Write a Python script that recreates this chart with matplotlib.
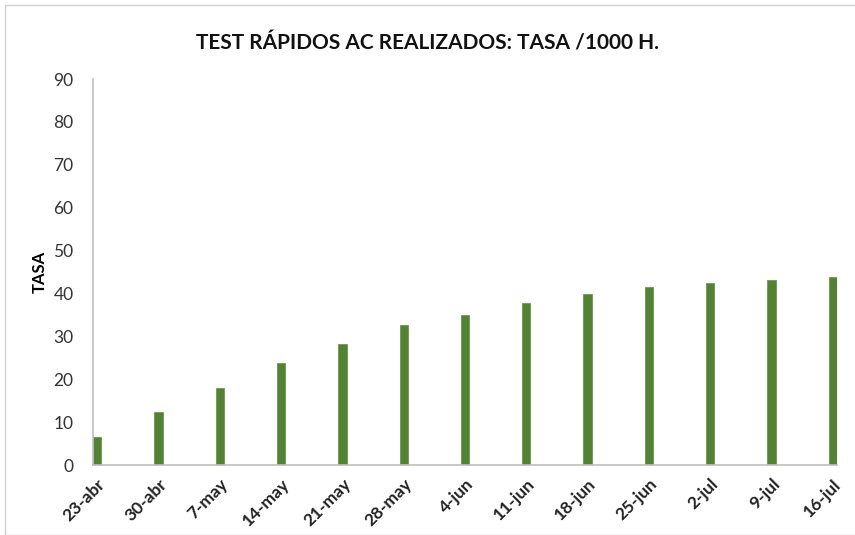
import numpy as np
import matplotlib.pyplot as plt
from matplotlib.patches import Rectangle

plt.rcParams['font.family'] = ['Lato', 'DejaVu Sans']

fechas = ['23-abr', '30-abr', '7-may', '14-may', '21-may', '28-may', '4-jun',
          '11-jun', '18-jun', '25-jun', '2-jul', '9-jul', '16-jul']
tasa = [6.5, 12.4, 18.0, 23.8, 28.2, 32.6, 35.0, 37.8, 39.9, 41.5, 42.4, 43.1, 43.8]

dias = np.arange(len(fechas)) * 7   # una barra por semana
ancho = 0.95

fig = plt.figure(figsize=(8.55, 5.35), dpi=100)
ax = fig.add_axes([93 / 855, 70 / 535, 744 / 855, 386 / 535])

ax.bar(dias, tasa, width=ancho, align='edge', color='#548235', edgecolor='#6a9a48', linewidth=0.6)

ax.set_xlim(0, dias[-1] + ancho)
ax.set_ylim(0, 90)
ax.set_yticks(np.arange(0, 91, 10))
ax.set_xticks(dias + ancho / 2)
ax.set_xticklabels(fechas, rotation=45, ha='right', rotation_mode='anchor',
                   fontsize=12.5, fontweight='bold', color='#222222')
ax.tick_params(axis='y', labelsize=12.5, colors='#333333', length=0, pad=14)
ax.tick_params(axis='x', length=0, pad=8)

for s in ['top', 'right']:
    ax.spines[s].set_visible(False)
for s in ['left', 'bottom']:
    ax.spines[s].set_color('#bfbfbf')
    ax.spines[s].set_linewidth(1.2)

ax.set_ylabel('TASA', fontsize=12, fontweight='bold', labelpad=4)
fig.text(0.5, 1 - 44 / 535, 'TEST RÁPIDOS AC REALIZADOS: TASA /1000 H.',
         ha='center', va='center', fontsize=15, fontweight='bold', color='#111111')

fig.patches.append(Rectangle((5 / 855, 0), 1, 1 - 5 / 535, transform=fig.transFigure,
                             fill=False, edgecolor='#d0d0d0', linewidth=1))

fig.savefig('out.png', dpi=100)
